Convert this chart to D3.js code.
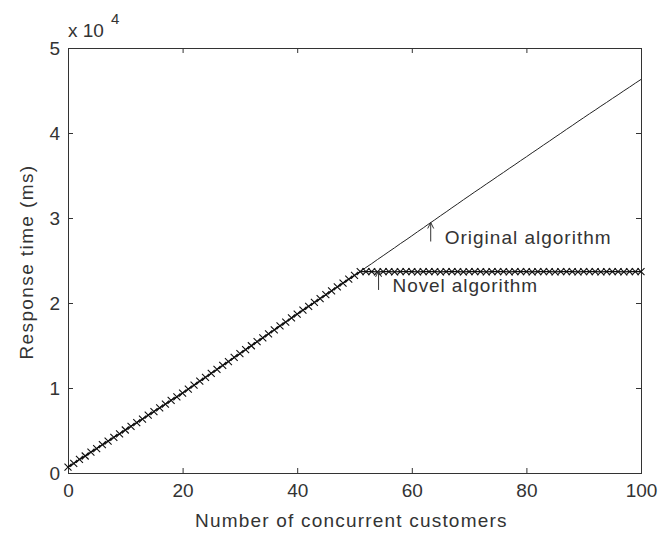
<!DOCTYPE html>
<html>
<head>
<meta charset="utf-8">
<script src="https://cdn.jsdelivr.net/npm/d3@7"></script>
<style>
  html, body { margin: 0; padding: 0; background: #fff; overflow: hidden; }
  svg { display: block; }
  text { font-family: "Liberation Sans", Arial, Helvetica, sans-serif; fill: #333; }
</style>
</head>
<body>
<svg id="chart" width="658" height="534"></svg>
<script>
// DATA ----------------------------------------------------------------------
const customers = d3.range(0, 101); // 0..100 concurrent customers

// Original algorithm (response time in ms)
const originalTimes = [
  700, 1130, 1590, 2000, 2450, 2870, 3330, 3740, 4200, 4610,
  5060, 5490, 5930, 6350, 6800, 7230, 7670, 8090, 8550, 8960,
  9400, 9870, 10330, 10800, 11260, 11730, 12180, 12660, 13110, 13590,
  14040, 14520, 14970, 15450, 15900, 16380, 16830, 17310, 17760, 18240,
  18700, 19160, 19610, 20070, 20520, 20980, 21430, 21890, 22340, 22800,
  23250, 23700, 24180, 24630, 25110, 25570, 26040, 26500, 26980, 27430,
  27900, 28380, 28840, 29320, 29780, 30260, 30720, 31200, 31660, 32140,
  32600, 33070, 33520, 33990, 34440, 34910, 35360, 35830, 36280, 36750,
  37200, 37670, 38120, 38590, 39040, 39510, 39960, 40430, 40880, 41350,
  41800, 42260, 42700, 43160, 43600, 44060, 44500, 44960, 45400, 45860,
  46300
];

// Novel algorithm (response time in ms), levels off after ~51 customers
const novelTimes = [
  700, 1130, 1590, 2000, 2450, 2870, 3330, 3740, 4200, 4610,
  5060, 5490, 5930, 6350, 6800, 7230, 7670, 8090, 8550, 8960,
  9400, 9870, 10330, 10800, 11260, 11730, 12180, 12660, 13110, 13590,
  14040, 14520, 14970, 15450, 15900, 16380, 16830, 17310, 17760, 18240,
  18700, 19160, 19610, 20070, 20520, 20980, 21430, 21890, 22340, 22800,
  23250, 23700, 23680, 23690, 23670, 23690, 23680, 23670, 23690, 23680,
  23690, 23670, 23680, 23690, 23680, 23670, 23690, 23680, 23690, 23670,
  23680, 23690, 23680, 23670, 23690, 23680, 23690, 23670, 23680, 23690,
  23680, 23670, 23690, 23680, 23690, 23670, 23680, 23690, 23680, 23670,
  23690, 23680, 23690, 23670, 23680, 23690, 23680, 23670, 23690, 23680,
  23690
];

const xTicks = [0, 20, 40, 60, 80, 100];
const yTicks = [0, 10000, 20000, 30000, 40000, 50000];
const yTickLabels = ["0", "1", "2", "3", "4", "5"];

const xLabel = "Number of concurrent customers";
const yLabel = "Response time (ms)";
const originalNote = { x: 63.3, y: 27000, text: "Original algorithm" };
const novelNote = { x: 54.2, y: 21300, text: "Novel algorithm" };

// CHART ---------------------------------------------------------------------
const svg = d3.select("#chart");
const width = +svg.attr("width");
const height = +svg.attr("height");

const margin = { top: 48, right: 17, bottom: 61, left: 68 };
const innerWidth = width - margin.left - margin.right;
const innerHeight = height - margin.top - margin.bottom;

svg.append("rect").attr("width", width).attr("height", height).attr("fill", "#fff");

const xScale = d3.scaleLinear().domain([0, 100]).range([0, innerWidth]);
const yScale = d3.scaleLinear().domain([0, 50000]).range([innerHeight, 0]);

const g = svg.append("g")
  .attr("transform", `translate(${margin.left},${margin.top})`);

const fontSize = 19;
const axisColor = "#333";

// Axes (ticks point inward, like the original figure)
const styleAxis = sel => {
  sel.select(".domain").remove();
  sel.selectAll(".tick line").attr("stroke", axisColor);
  sel.selectAll(".tick text")
    .attr("fill", axisColor)
    .style("font-family", "\"Liberation Sans\", Arial, sans-serif")
    .style("font-size", `${fontSize}px`);
};

// only ticks on the top and right edges, no labels
const ticksOnly = sel => {
  sel.select(".domain").remove();
  sel.selectAll(".tick text").remove();
  sel.selectAll(".tick line").attr("stroke", axisColor);
};

g.append("g")
  .attr("transform", `translate(0,${innerHeight})`)
  .call(d3.axisBottom(xScale).tickValues(xTicks).tickSize(-5).tickPadding(11).tickFormat(d3.format("d")))
  .call(styleAxis);

g.append("g")
  .call(d3.axisTop(xScale).tickValues(xTicks).tickSize(-5))
  .call(ticksOnly);

g.append("g")
  .call(d3.axisLeft(yScale).tickValues(yTicks).tickSize(-5).tickPadding(8)
    .tickFormat((d, i) => yTickLabels[i]))
  .call(styleAxis);

g.append("g")
  .attr("transform", `translate(${innerWidth},0)`)
  .call(d3.axisRight(yScale).tickValues(yTicks).tickSize(-5))
  .call(ticksOnly);

// Frame
g.append("rect")
  .attr("x", 0.5)
  .attr("y", 0.5)
  .attr("width", innerWidth)
  .attr("height", innerHeight)
  .attr("fill", "none")
  .attr("stroke", axisColor)
  .attr("stroke-width", 1);

// Exponent label "x 10^4"
g.append("text")
  .attr("x", 0)
  .attr("y", -11)
  .style("font-size", `${fontSize}px`)
  .text("x 10");
g.append("text")
  .attr("x", 43)
  .attr("y", -24)
  .style("font-size", "15px")
  .text("4");

// Lines
const lineGen = values => d3.line()
  .x((d, i) => xScale(customers[i]))
  .y(d => yScale(d))(values);

g.append("path")
  .attr("d", lineGen(originalTimes))
  .attr("fill", "none")
  .attr("stroke", "#222")
  .attr("stroke-width", 1);

g.append("path")
  .attr("d", lineGen(novelTimes))
  .attr("fill", "none")
  .attr("stroke", "#111")
  .attr("stroke-width", 1.2);

// x markers for the novel algorithm
g.selectAll(".novel-point")
  .data(novelTimes)
  .enter()
  .append("path")
  .attr("class", "novel-point")
  .attr("transform", (d, i) => `translate(${xScale(customers[i])},${yScale(d)})`)
  .attr("d", "M-3.5,-3.5L3.5,3.5M-3.5,3.5L3.5,-3.5")
  .attr("fill", "none")
  .attr("stroke", "#111")
  .attr("stroke-width", 1.1);

// Annotations with up arrows
const drawNote = (note, spacing) => {
  const ax = xScale(note.x);
  const ay = yScale(note.y);
  g.append("path")
    .attr("d", `M${ax},${ay - 2}V${ay - 21}M${ax - 3},${ay - 15}L${ax},${ay - 21}L${ax + 3},${ay - 15}`)
    .attr("fill", "none")
    .attr("stroke", "#333")
    .attr("stroke-width", 1);
  g.append("text")
    .attr("x", ax + 14)
    .attr("y", ay)
    .style("letter-spacing", `${spacing}px`)
    .style("font-size", `${fontSize}px`)
    .text(note.text);
};

drawNote(originalNote, 1.0);
drawNote(novelNote, 0.9);

// Axis titles
g.append("text")
  .attr("x", 127)
  .attr("y", innerHeight + 54)
  .style("letter-spacing", "1.2px")
  .style("font-size", `${fontSize}px`)
  .text(xLabel);

svg.append("text")
  .attr("transform", `translate(33,${262})rotate(-90)`)
  .attr("text-anchor", "middle")
  .style("letter-spacing", "1.4px")
  .style("font-size", `${fontSize}px`)
  .text(yLabel);
</script>
</body>
</html>
